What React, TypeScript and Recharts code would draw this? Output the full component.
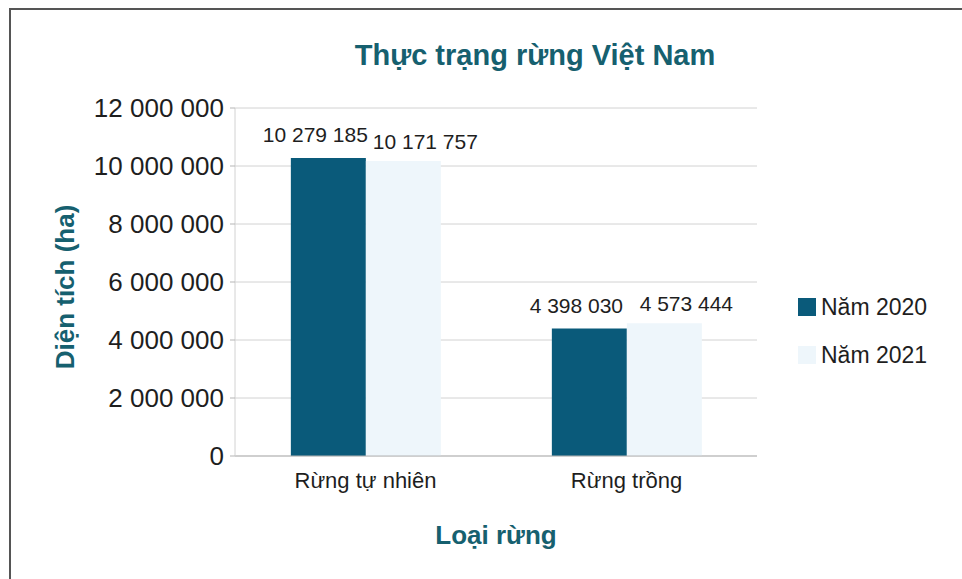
import React from "react";
import {
  BarChart,
  Bar,
  XAxis,
  YAxis,
  CartesianGrid,
  LabelList,
  Label,
} from "recharts";

const categories = ["Rừng tự nhiên", "Rừng trồng"];
const area2020 = [10279185, 4398030];
const area2021 = [10171757, 4573444];
const yTicks = [0, 2000000, 4000000, 6000000, 8000000, 10000000, 12000000];
const seriesNames = ["Năm 2020", "Năm 2021"];

const COLOR_2020 = "#0a5a7a";
const COLOR_2021 = "#eef6fb";
const TEAL = "#16606f";
const FONT = "'Liberation Sans', Arial, sans-serif";

const chartData = categories.map((name, i) => ({
  name,
  y2020: area2020[i],
  y2021: area2021[i],
}));

// 12000000 -> "12 000 000"
const fmt = (v: number) => String(v).replace(/\B(?=(\d{3})+(?!\d))/g, " ");

const makeValueLabel = (dx: number, dy: number) => (props: any) => {
  const { x, y, width, value } = props;
  return (
    <text
      x={Number(x) + Number(width) / 2 + dx}
      y={Number(y) + dy}
      textAnchor="middle"
      dominantBaseline="central"
      fontSize={21}
      fontFamily={FONT}
      fill="#1e1e1e"
    >
      {fmt(Number(value))}
    </text>
  );
};

const YTitle = (props: any) => {
  const vb = props.viewBox || {};
  const cx = 65;
  const cy = (vb.y ?? 108) + (vb.height ?? 348) / 2 + 5;
  return (
    <text
      x={cx}
      y={cy}
      transform={`rotate(-90 ${cx} ${cy})`}
      textAnchor="middle"
      dominantBaseline="central"
      fontSize={26}
      fontWeight="bold"
      fontFamily={FONT}
      fill={TEAL}
    >
      Diện tích (ha)
    </text>
  );
};

const XTitle = (props: any) => {
  const vb = props.viewBox || {};
  const cx = (vb.x ?? 235) + (vb.width ?? 522) / 2;
  return (
    <text
      x={cx}
      y={535}
      textAnchor="middle"
      dominantBaseline="central"
      fontSize={26}
      fontWeight="bold"
      fontFamily={FONT}
      fill={TEAL}
    >
      Loại rừng
    </text>
  );
};

const App: React.FC = () => {
  const legendColors = [COLOR_2020, COLOR_2021];

  return (
    <div
      style={{
        position: "absolute",
        left: 0,
        top: 0,
        width: 962,
        height: 579,
        overflow: "hidden",
        background: "#fff",
        fontFamily: FONT,
      }}
    >
      {/* frame */}
      <div
        style={{
          position: "absolute",
          left: 9,
          top: 8,
          width: 960,
          height: 580,
          borderTop: "2px solid #555",
          borderLeft: "2px solid #555",
        }}
      />
      <div
        style={{
          position: "absolute",
          left: 0,
          width: 1070,
          top: 36,
          textAlign: "center",
          fontSize: 29,
          fontWeight: "bold",
          color: TEAL,
          lineHeight: "38px",
        }}
      >
        Thực trạng rừng Việt Nam
      </div>

      <div style={{ position: "absolute", left: 0, top: 0 }}>
        <BarChart
          width={962}
          height={579}
          data={chartData}
          margin={{ top: 108, right: 205, bottom: 33, left: 0 }}
          barCategoryGap="21.4%"
          barGap={0}
        >
          <CartesianGrid vertical={false} stroke="#d2d2d2" />
          <XAxis
            dataKey="name"
            height={90}
            tickSize={0}
            tickMargin={16}
            axisLine={{ stroke: "#b5b5b5" }}
            tick={{ fontSize: 22, fill: "#1e1e1e", fontFamily: FONT }}
          >
            <Label content={XTitle} />
          </XAxis>
          <YAxis
            width={235}
            domain={[0, 12000000]}
            ticks={yTicks}
            tickFormatter={fmt}
            tickSize={5}
            tickMargin={6}
            axisLine={{ stroke: "#d2d2d2" }}
            tickLine={{ stroke: "#b5b5b5" }}
            tick={{ fontSize: 26, fill: "#1e1e1e", fontFamily: FONT }}
          >
            <Label content={YTitle} />
          </YAxis>
          <Bar
            dataKey="y2020"
            name={seriesNames[0]}
            fill={COLOR_2020}
            isAnimationActive={false}
          >
            <LabelList dataKey="y2020" content={makeValueLabel(-13, -23)} />
          </Bar>
          <Bar
            dataKey="y2021"
            name={seriesNames[1]}
            fill={COLOR_2021}
            isAnimationActive={false}
          >
            <LabelList dataKey="y2021" content={makeValueLabel(22, -20)} />
          </Bar>
        </BarChart>
      </div>

      {/* legend */}
      <div style={{ position: "absolute", left: 798, top: 283 }}>
        {seriesNames.map((n, i) => (
          <div
            key={n}
            style={{
              display: "flex",
              alignItems: "center",
              height: 48,
              fontSize: 23,
              color: "#1e1e1e",
            }}
          >
            <span
              style={{
                display: "inline-block",
                width: 18,
                height: 18,
                background: legendColors[i],
                marginRight: 5,
              }}
            />
            {n}
          </div>
        ))}
      </div>
    </div>
  );
};

export default App;
